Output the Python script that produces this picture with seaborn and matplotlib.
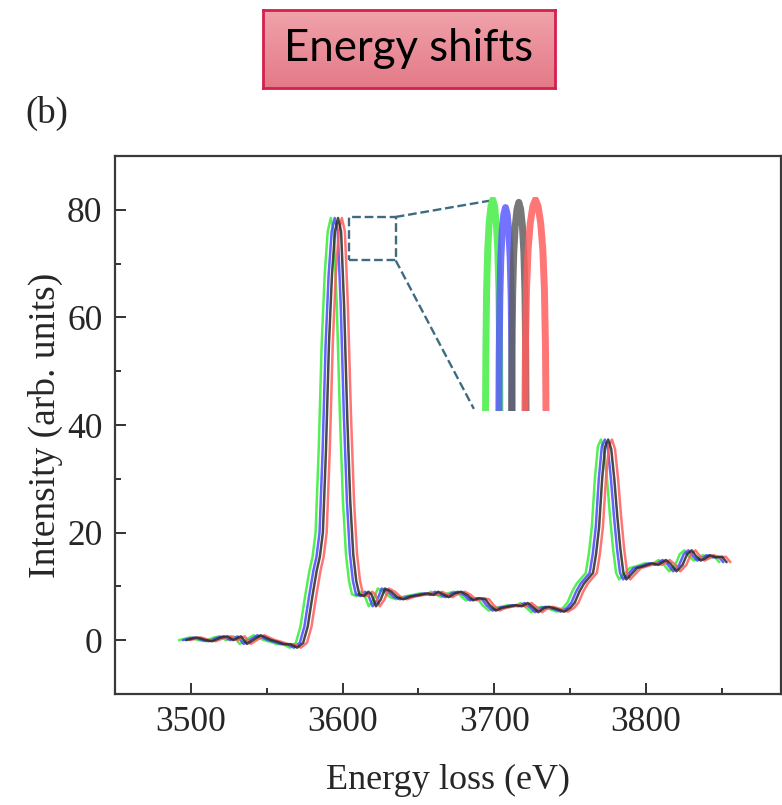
import numpy as np
import pandas as pd
import matplotlib
matplotlib.use("Agg")
import matplotlib.pyplot as plt
import seaborn as sns
from matplotlib.colors import LinearSegmentedColormap
from matplotlib.ticker import MultipleLocator

# reference spectrum (black curve)
energy = [3497, 3504, 3510, 3514, 3520, 3524, 3528, 3533, 3537, 3542, 3546, 3553,
          3557, 3561, 3566, 3570, 3574, 3577, 3580, 3583, 3585, 3587, 3589, 3591,
          3593, 3595, 3597, 3599, 3601, 3603, 3605, 3607, 3609, 3611, 3614, 3617,
          3619, 3622, 3625, 3628, 3632, 3636, 3640, 3645, 3651, 3656, 3660, 3663,
          3667, 3670, 3674, 3678, 3682, 3686, 3690, 3694, 3697, 3701, 3705, 3709,
          3714, 3718, 3722, 3726, 3729, 3733, 3736, 3741, 3746, 3750, 3753, 3756,
          3759, 3762, 3765, 3767, 3769, 3771, 3773, 3775, 3777, 3779, 3781, 3783,
          3785, 3787, 3790, 3794, 3799, 3804, 3808, 3813, 3816, 3820, 3824, 3827,
          3830, 3833, 3836, 3839, 3842, 3846, 3850, 3853]
intensity = [0.0, 0.5, 0.0, -0.2, 0.5, 0.7, 0.0, 0.7, -0.7, 0.2, 0.9, 0.0,
             -0.3, -0.7, -0.8, -1.4, -0.5, 2.5, 8.0, 13.0, 15.5, 20.0, 35.0, 55.0,
             68.0, 76.0, 78.5, 76.0, 62.0, 42.0, 26.0, 16.0, 11.0, 8.5, 8.2, 9.0,
             8.5, 6.3, 7.5, 9.6, 9.0, 8.0, 7.6, 8.1, 8.4, 8.7, 8.4, 9.0,
             8.4, 8.0, 8.7, 9.0, 8.4, 7.4, 7.8, 7.6, 6.5, 5.5, 6.0, 6.2,
             6.5, 6.3, 6.9, 6.0, 5.2, 6.0, 6.2, 5.8, 5.3, 6.0, 7.0, 9.0,
             10.5, 11.5, 12.5, 16.0, 21.0, 30.0, 36.0, 37.3, 35.5, 30.0, 23.0, 17.0,
             12.5, 11.3, 12.2, 13.4, 13.8, 14.3, 14.0, 14.9, 14.2, 12.8, 14.0, 16.0,
             16.7, 15.6, 14.8, 15.2, 15.8, 15.4, 15.5, 14.5]

series = ["green", "blue", "red", "black"]
shifts = [-4.8, -2.2, 2.5, 0.0]
line_colors = {"green": "#35ee35", "blue": "#4848ff", "red": "#ff5c5c", "black": "#2a2a2a"}

# magnified peak tops (inset)
inset_u = [-1.0, -0.95, -0.85, -0.7, -0.5, -0.25, 0.0, 0.25, 0.5, 0.7, 0.85, 0.95, 1.0]
inset_drop = [8.0, 5.6, 3.4, 1.9, 0.9, 0.25, 0.0, 0.25, 0.9, 1.9, 3.4, 5.6, 8.0]
inset_centers = [3593.4, 3595.7, 3598.1, 3601.1]
inset_halfwidth = [1.3, 1.2, 1.3, 1.9]
inset_tops = [78.6, 78.3, 78.5, 78.6]
inset_series = ["green", "blue", "black", "red"]
inset_colors = {"green": "#44ee44", "blue": "#5a5aff", "black": "#5f5f5f", "red": "#ff5e5e"}

zoom_box_x = [3604, 3635, 3635, 3604, 3604]
zoom_box_y = [70.6, 70.6, 78.7, 78.7, 70.6]
link_top_x, link_top_y = [3635, 3696.5], [78.7, 81.7]
link_bot_x, link_bot_y = [3635, 3686.5], [70.6, 43.0]

sns.set_theme(style="white")
plt.rcParams["font.family"] = ["Liberation Serif", "DejaVu Serif"]

fig = plt.figure(figsize=(7.82, 8.05), dpi=100)
ax = fig.add_axes([0.147, 0.138, 0.852, 0.668])

rows = []
for name, dx in zip(series, shifts):
    for e, i in zip(energy, intensity):
        rows.append({"energy": e + dx, "intensity": i, "series": name})
df = pd.DataFrame(rows)
sns.lineplot(data=df, x="energy", y="intensity", hue="series", hue_order=series,
             palette=line_colors, estimator=None, sort=False, lw=1.8, alpha=0.85,
             legend=False, ax=ax)

ax.plot(zoom_box_x, zoom_box_y, ls="--", color="#3f6b82", lw=1.7)
ax.plot(link_top_x, link_top_y, ls="--", color="#3f6b82", lw=1.7)
ax.plot(link_bot_x, link_bot_y, ls="--", color="#3f6b82", lw=1.7)

ax.set_xlim(3450, 3889)
ax.set_ylim(-10, 90)
ax.xaxis.set_major_locator(MultipleLocator(100))
ax.xaxis.set_minor_locator(MultipleLocator(50))
ax.yaxis.set_major_locator(MultipleLocator(20))
ax.yaxis.set_minor_locator(MultipleLocator(10))
ax.tick_params(which="both", direction="in", color="#333333", width=1.4,
               bottom=True, left=True, top=False, right=False)
ax.tick_params(which="major", length=8, labelsize=25.5, pad=9)
ax.tick_params(which="minor", length=4)
for s in ax.spines.values():
    s.set_color("#3a3a3a")
    s.set_linewidth(1.6)
ax.set_xlabel("Energy loss (eV)", fontsize=26, labelpad=18)
ax.set_ylabel("Intensity (arb. units)", fontsize=27, labelpad=3)

# inset with thick magnified peak tops
ins = ax.inset_axes([3686.5, 42.6, 53.0, 39.8], transform=ax.transData)
irows = []
for name, c, hw, top in zip(inset_series, inset_centers, inset_halfwidth, inset_tops):
    for u, d in zip(inset_u, inset_drop):
        irows.append({"x": c + u * hw, "y": top - d, "series": name})
idf = pd.DataFrame(irows)
sns.lineplot(data=idf, x="x", y="y", hue="series", hue_order=inset_series,
             palette=inset_colors, estimator=None, sort=False, lw=5, alpha=0.85,
             legend=False, ax=ins, solid_capstyle="round")
ins.set_xlim(3590.0, 3604.5)
ins.set_ylim(70.6, 78.7)
ins.set_xlabel("")
ins.set_ylabel("")
ins.set_xticks([])
ins.set_yticks([])
ins.axis("off")

# title box
box = fig.add_axes([263 / 782, 1 - 88 / 805, 292 / 782, 78 / 805])
grad = LinearSegmentedColormap.from_list("pink", ["#f0a3ab", "#e47a88"])
box.imshow(np.linspace(0, 1, 64).reshape(-1, 1), aspect="auto", cmap=grad,
           extent=[0, 1, 0, 1], origin="upper")
box.set_xticks([])
box.set_yticks([])
for s in box.spines.values():
    s.set_color("#d4204c")
    s.set_linewidth(2)
box.text(0.5, 0.5, "Energy shifts", ha="center", va="center", fontsize=31.5,
         family=["Lato", "DejaVu Sans"], color="black", transform=box.transAxes)

fig.text(25 / 782, 1 - 113 / 805, "(b)", fontsize=26.5, va="center", ha="left")

fig.savefig("out.png", dpi=100)
